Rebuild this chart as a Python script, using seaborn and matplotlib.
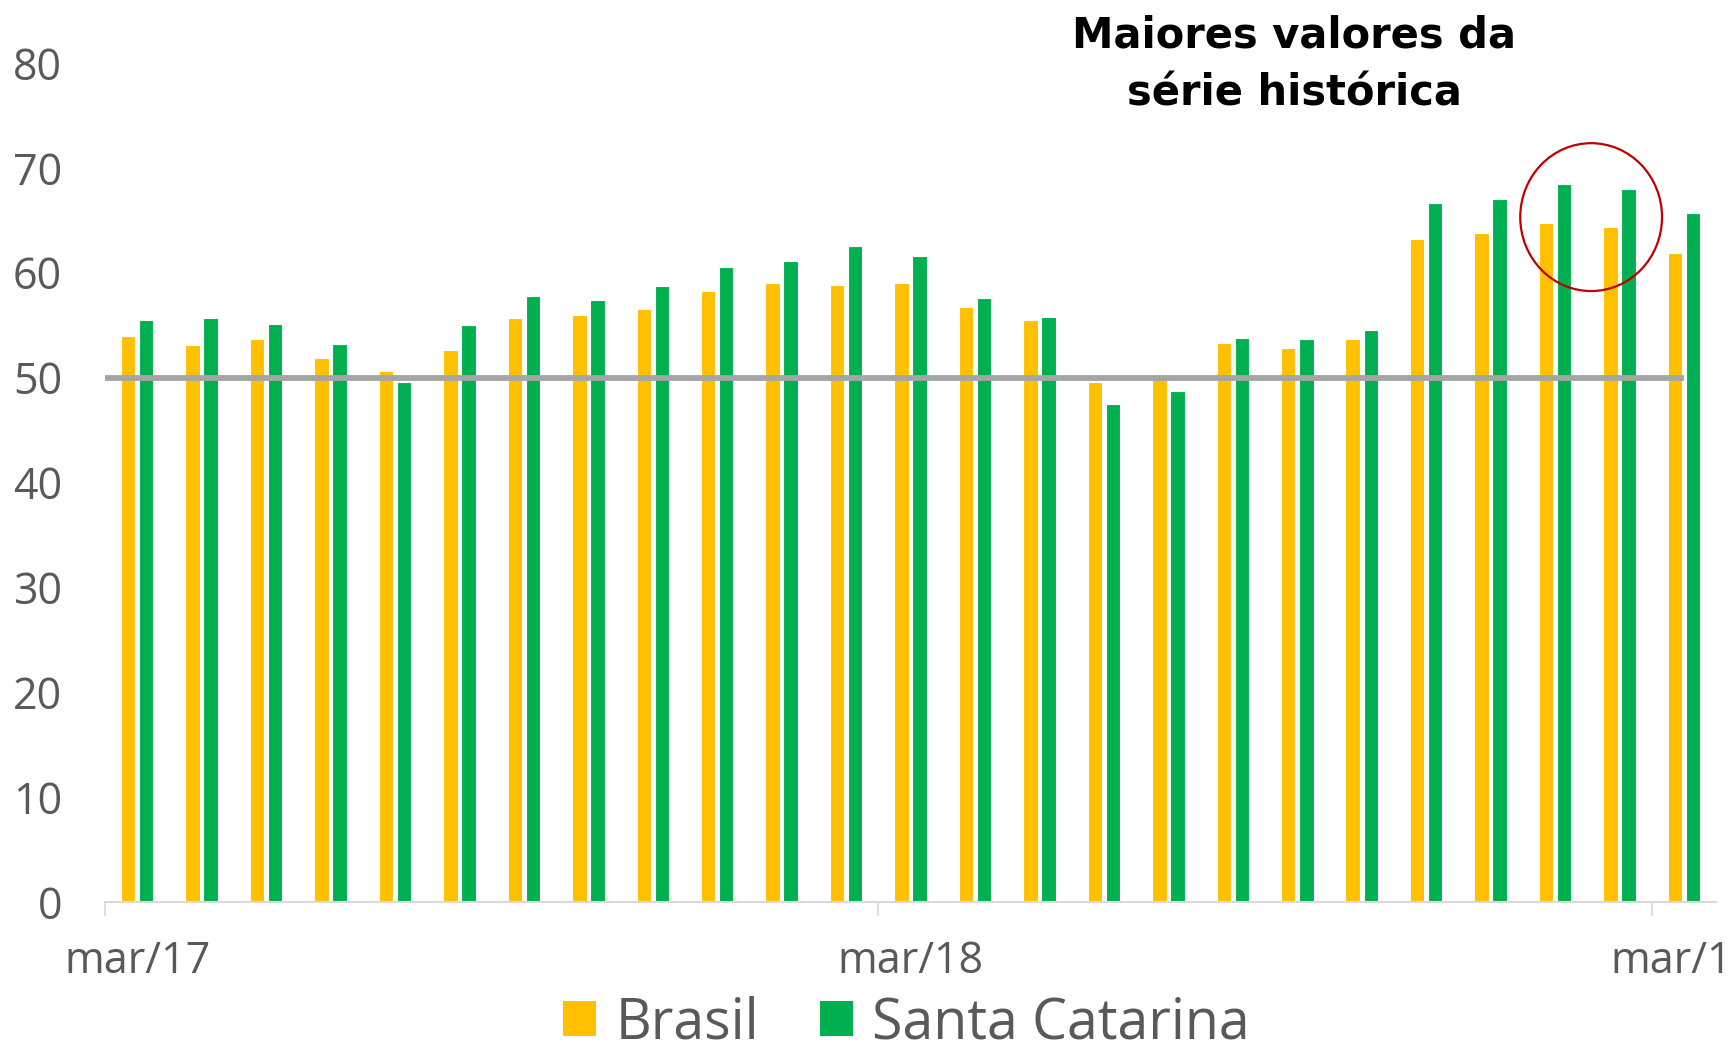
import matplotlib
matplotlib.use('Agg')
import matplotlib.pyplot as plt
from matplotlib.patches import Ellipse, Patch
import pandas as pd
import seaborn as sns

meses = ['mar/17', 'abr/17', 'mai/17', 'jun/17', 'jul/17', 'ago/17', 'set/17', 'out/17',
         'nov/17', 'dez/17', 'jan/18', 'fev/18', 'mar/18', 'abr/18', 'mai/18', 'jun/18',
         'jul/18', 'ago/18', 'set/18', 'out/18', 'nov/18', 'dez/18', 'jan/19', 'fev/19', 'mar/19']
brasil = [54.0, 53.1, 53.7, 51.9, 50.6, 52.6, 55.7, 56.0, 56.5, 58.3, 59.0, 58.8, 59.0,
          56.7, 55.5, 49.6, 50.0, 53.3, 52.8, 53.7, 63.2, 63.8, 64.7, 64.4, 61.9]
santa_catarina = [55.5, 55.7, 55.1, 53.2, 49.6, 55.0, 57.8, 57.4, 58.7, 60.5, 61.1, 62.5, 61.6,
                  57.6, 55.8, 47.5, 48.7, 53.8, 53.7, 54.5, 66.6, 67.0, 68.5, 68.0, 65.7]
series = ['Brasil', 'Santa Catarina']
cores = ['#FFC000', '#00B050']
linha_50 = 50
rotulos_x = ['mar/17', 'mar/18', 'mar/19']

df = pd.DataFrame({
    'mes': meses * 2,
    'serie': ['Brasil'] * len(meses) + ['Santa Catarina'] * len(meses),
    'valor': brasil + santa_catarina,
})

sns.set_style('white')
plt.rcParams['font.family'] = ['Open Sans', 'DejaVu Sans']

fig = plt.figure(figsize=(17.3, 10.49), dpi=100)
ax = fig.add_axes([0.0607, 0.1401, 0.9313, 0.7999])

sns.barplot(data=df, x='mes', y='valor', hue='serie', hue_order=series, palette=cores,
            saturation=1, width=0.56, gap=0.2, edgecolor='white', linewidth=0.8,
            legend=False, ax=ax)

# linha de referencia em 50
ax.hlines(linha_50, -0.5, len(meses) - 1, color='#A5A5A5', linewidth=4.2, zorder=5)

ax.add_patch(Ellipse((22.56, 65.3), width=2.2, height=14.1, fill=False,
                     edgecolor='#C00000', linewidth=1.6, zorder=6))

ax.set_xlim(-0.5, len(meses) - 0.5)
ax.set_ylim(0, 80)
ax.set_yticks(range(0, 81, 10))
ax.set_xticks([meses.index(r) for r in rotulos_x])
ax.set_xticklabels(rotulos_x)
ax.set_xticks([meses.index(r) - 0.5 for r in rotulos_x], minor=True)
ax.tick_params(axis='x', which='major', bottom=True, length=0, pad=27, labelsize=31,
               labelcolor='#595959')
ax.tick_params(axis='x', which='minor', bottom=True, length=10, width=1.2, color='#D9D9D9',
               direction='out')
ax.tick_params(axis='y', length=0, pad=31, labelsize=31, labelcolor='#595959')
ax.set_xlabel('')
ax.set_ylabel('')
for s in ['top', 'right', 'left']:
    ax.spines[s].set_visible(False)
ax.spines['bottom'].set_color('#D9D9D9')
ax.spines['bottom'].set_linewidth(1.5)

fig.text(0.748, 0.9545, 'Maiores valores da', ha='center', va='baseline', color='black',
         fontsize=30, fontweight='bold', family=['DejaVu Sans'])
fig.text(0.748, 0.899, 'série histórica', ha='center', va='baseline', color='black',
         fontsize=30, fontweight='bold', family=['DejaVu Sans'])

handles = [Patch(facecolor=c, edgecolor='none') for c in cores]
fig.legend(handles, series, loc='center', bbox_to_anchor=(0.524, 0.024), ncol=2,
           frameon=False, fontsize=40, labelcolor='#595959', handlelength=0.6,
           handleheight=0.6, handletextpad=0.34, columnspacing=1.1, borderpad=0)

fig.savefig('out.png', dpi=100)
